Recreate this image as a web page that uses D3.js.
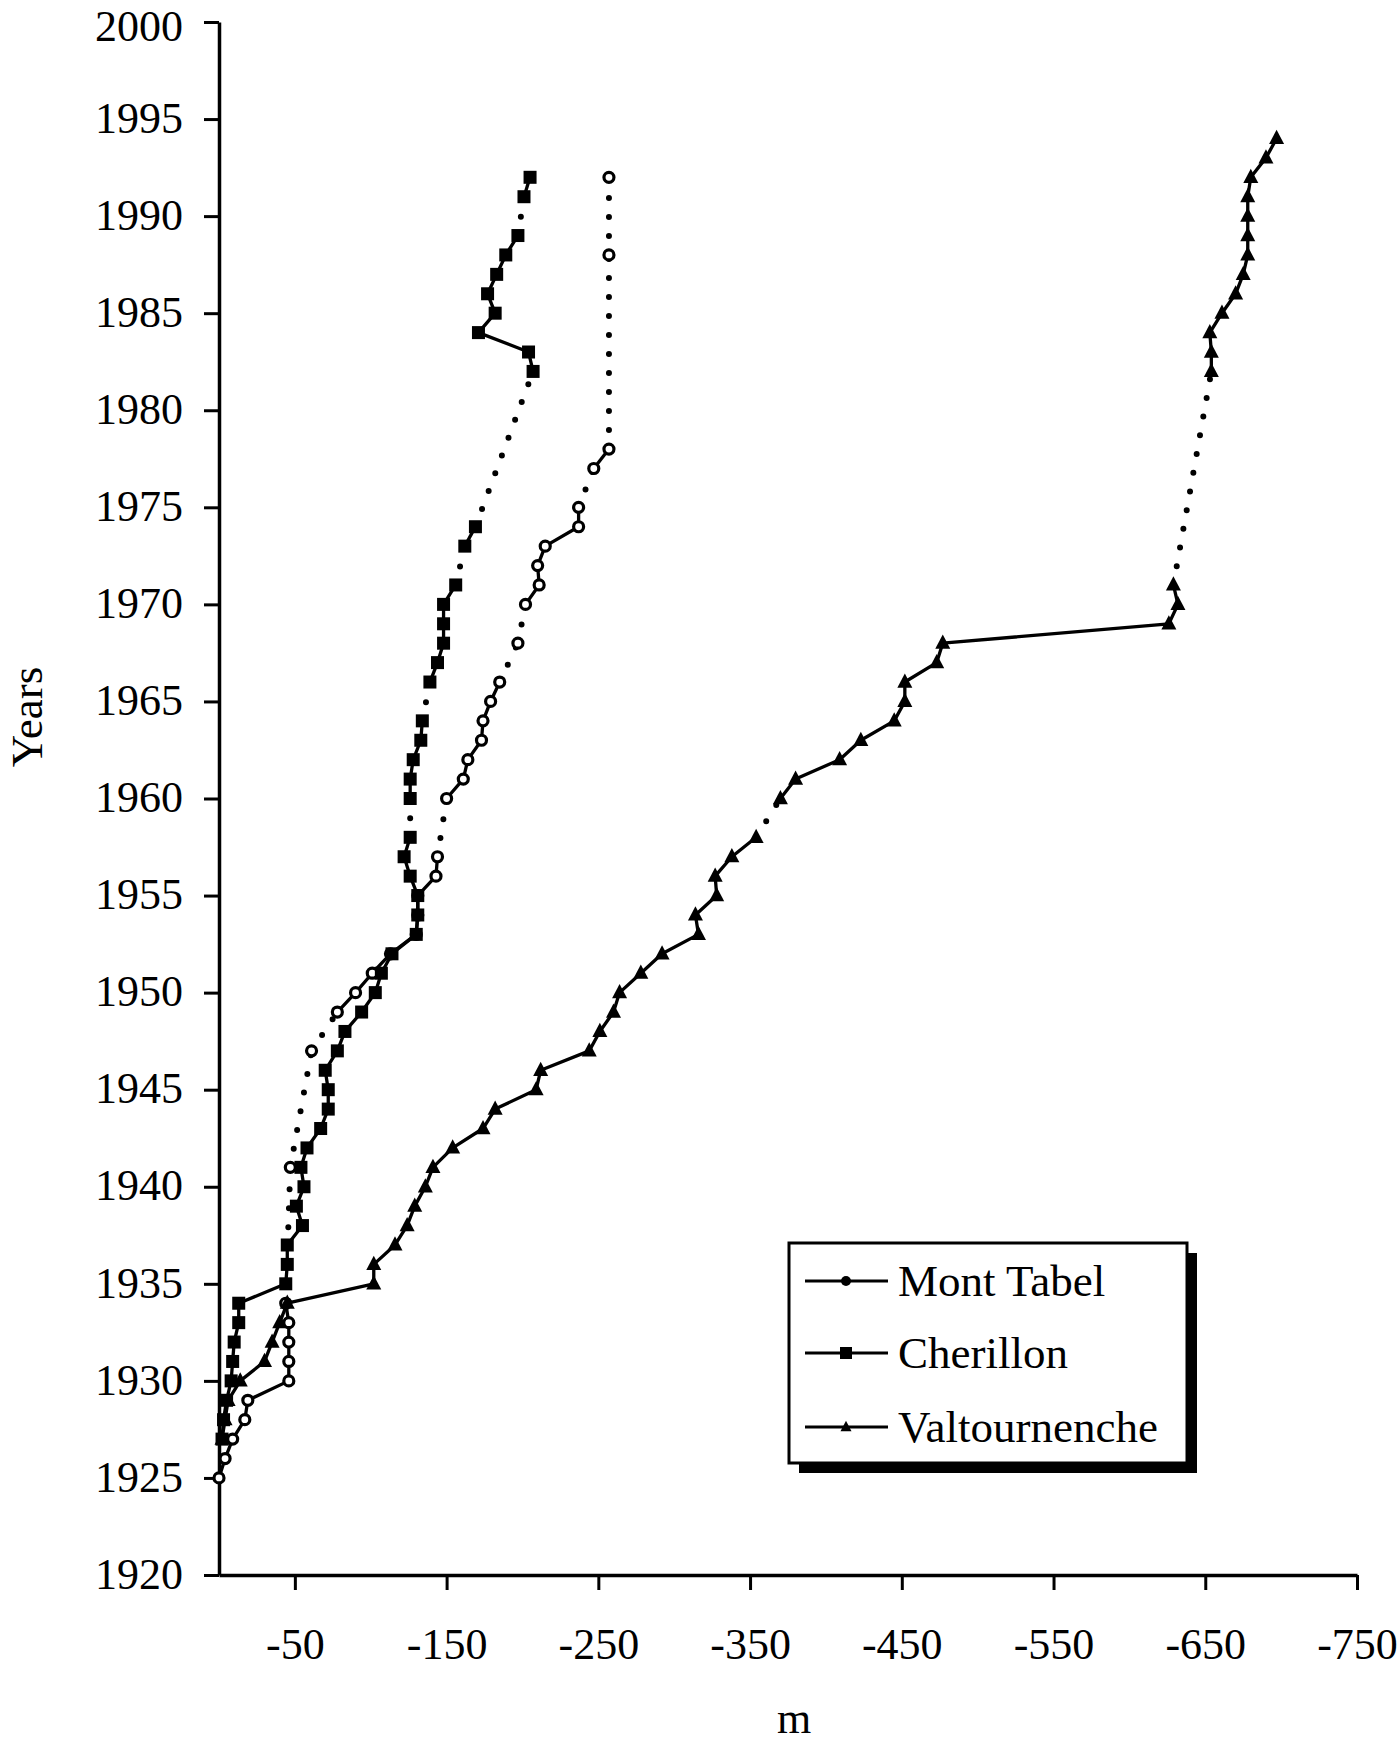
<!DOCTYPE html>
<html>
<head>
<meta charset="utf-8">
<script src="https://cdn.jsdelivr.net/npm/d3@7"></script>
<style>
  html, body { margin: 0; padding: 0; background: #fff; }
  svg { display: block; }
  text { font-family: "Liberation Serif", "Times New Roman", serif; fill: #000; }
</style>
</head>
<body>
<svg id="chart" width="1400" height="1744"></svg>
<script>
// ---------- data ----------
const seriesNames = ["Mont Tabel", "Cherillon", "Valtournenche"];

const mtYears  = [1925,1926,1927,1928,1929,1930,1931,1932,1933,1934,1941,1947,1949,1950,1951,1952,1953,1954,1955,1956,1957,1960,1961,1962,1963,1964,1965,1966,1968,1970,1971,1972,1973,1974,1975,1977,1978,1988,1992];
const mtValues = [0,-4,-9,-17,-19,-46,-46,-46,-46,-44,-47,-61,-78,-90,-101,-113,-130,-131,-131,-143,-144,-150,-161,-164,-173,-174,-179,-185,-197,-202,-211,-210,-215,-237,-237,-247,-257,-257,-257];

const chYears  = [1927,1928,1929,1930,1931,1932,1933,1934,1935,1936,1937,1938,1939,1940,1941,1942,1943,1944,1945,1946,1947,1948,1949,1950,1951,1952,1953,1954,1955,1956,1957,1958,1960,1961,1962,1963,1964,1966,1967,1968,1969,1970,1971,1973,1974,1982,1983,1984,1985,1986,1987,1988,1989,1991,1992];
const chValues = [-2,-3,-5,-8,-9,-10,-13,-13,-44,-45,-45,-55,-51,-56,-54,-58,-67,-72,-72,-70,-78,-83,-94,-103,-107,-114,-130,-131,-131,-126,-122,-126,-126,-126,-128,-133,-134,-139,-144,-148,-148,-148,-156,-162,-169,-207,-204,-171,-182,-177,-183,-189,-197,-201,-205];

const vaYears  = [1927,1928,1929,1930,1931,1932,1933,1934,1935,1936,1937,1938,1939,1940,1941,1942,1943,1944,1945,1946,1947,1948,1949,1950,1951,1952,1953,1954,1955,1956,1957,1958,1960,1961,1962,1963,1964,1965,1966,1967,1968,1969,1970,1971,1982,1983,1984,1985,1986,1987,1988,1989,1990,1991,1992,1993,1994];
const vaValues = [-2,-4,-6,-14,-30,-35,-40,-45,-102,-102,-116,-124,-129,-136,-141,-154,-174,-182,-209,-212,-244,-251,-260,-264,-278,-292,-316,-314,-328,-327,-338,-354,-370,-380,-409,-423,-445,-452,-452,-473,-477,-626,-632,-629,-654,-654,-653,-661,-670,-675,-678,-678,-678,-678,-680,-690,-697];

const yTickValues = [1920,1925,1930,1935,1940,1945,1950,1955,1960,1965,1970,1975,1980,1985,1990,1995,2000];
const xTickValues = [-50,-150,-250,-350,-450,-550,-650,-750];
const xTickLabels = ["-50","-150","-250","-350","-450","-550","-650","-750"];
const xTitle = "m";
const yTitle = "Years";

// ---------- layout ----------
const svg = d3.select("#chart");
const x = d3.scaleLinear().domain([0, -750]).range([219, 1357]);
const y = d3.scaleLinear().domain([1920, 2000]).range([1575, 22]);

// axes
const yAxis = d3.axisLeft(y).tickValues(yTickValues).tickFormat(d3.format("d"))
  .tickSize(15).tickSizeOuter(0).tickPadding(21);
const yG = svg.append("g").attr("transform", `translate(${x(0)},0)`).call(yAxis);
yG.select(".domain").attr("stroke", "#000").attr("stroke-width", 3.5);
yG.selectAll(".tick line").attr("stroke", "#000").attr("stroke-width", 3);
yG.selectAll(".tick text").attr("font-size", 44)
  .attr("dy", d => (y(d) < 40 ? (40 - y(d)) + "px" : "0.3em"))
  .style("font-family", "'Liberation Serif', serif").attr("fill", "#000");

const xAxis = d3.axisBottom(x).tickValues(xTickValues)
  .tickFormat((d, i) => xTickLabels[i]).tickSize(15).tickSizeOuter(0).tickPadding(40);
const xG = svg.append("g").attr("transform", `translate(0,${y(1920)})`).call(xAxis);
xG.select(".domain").attr("stroke", "#000").attr("stroke-width", 3.5);
xG.selectAll(".tick line").attr("stroke", "#000").attr("stroke-width", 3);
xG.selectAll(".tick text").attr("font-size", 44).attr("dy", "0.66em")
  .style("font-family", "'Liberation Serif', serif").attr("fill", "#000");

// titles
svg.append("text").attr("x", 794).attr("y", 1733).attr("text-anchor", "middle")
  .attr("font-size", 44).text(xTitle);
svg.append("text").attr("transform", "translate(42,717) rotate(-90)")
  .attr("text-anchor", "middle").attr("font-size", 45).text(yTitle);

// ---------- series ----------
function build(years, values) {
  return years.map((yr, i) => ({ year: yr, v: values[i] }));
}
const series = [
  { name: seriesNames[0], pts: build(mtYears, mtValues), marker: "circle" },
  { name: seriesNames[1], pts: build(chYears, chValues), marker: "square" },
  { name: seriesNames[2], pts: build(vaYears, vaValues), marker: "triangle" }
];

const line = d3.line().x(d => x(d.v)).y(d => y(d.year));
const plot = svg.append("g");

series.forEach(s => {
  const pts = s.pts;
  // dotted connection across gaps (missing years)
  for (let i = 1; i < pts.length; i++) {
    const a = pts[i - 1], b = pts[i];
    if ((b.year - a.year) !== 1) {
      plot.append("path").attr("d", line([a, b])).attr("fill", "none")
        .attr("stroke", "#000").attr("stroke-width", 6)
        .attr("stroke-linecap", "round").attr("stroke-dasharray", "0 19");
    }
  }
  // solid runs of consecutive years
  let run = [pts[0]];
  const runs = [];
  for (let i = 1; i < pts.length; i++) {
    if (pts[i].year - pts[i - 1].year === 1) run.push(pts[i]);
    else { runs.push(run); run = [pts[i]]; }
  }
  runs.push(run);
  runs.filter(r => r.length > 1).forEach(r => {
    plot.append("path").attr("d", line(r)).attr("fill", "none")
      .attr("stroke", "#000").attr("stroke-width", 3.3).attr("stroke-linejoin", "round");
  });
});

function drawMarker(g, type, cx, cy, legend) {
  if (type === "circle") {
    if (legend) {
      g.append("circle").attr("cx", cx).attr("cy", cy).attr("r", 5).attr("fill", "#000");
    } else {
      g.append("circle").attr("cx", cx).attr("cy", cy).attr("r", 5)
        .attr("fill", "#fff").attr("stroke", "#000").attr("stroke-width", 3.2);
    }
  } else if (type === "square") {
    const h = legend ? 6 : 6.5;
    g.append("rect").attr("x", cx - h).attr("y", cy - h).attr("width", 2 * h).attr("height", 2 * h)
      .attr("fill", "#000");
  } else {
    const sz = legend ? 5.5 : 7.5;
    g.append("path").attr("d", `M${cx},${cy - sz * 1.15}L${cx + sz},${cy + sz * 0.75}L${cx - sz},${cy + sz * 0.75}Z`)
      .attr("fill", "#000");
  }
}

series.forEach(s => {
  s.pts.forEach(p => drawMarker(plot, s.marker, x(p.v), y(p.year), false));
});

// ---------- legend ----------
const lg = svg.append("g");
const lx = 789, ly = 1243, lw = 398, lh = 220;
lg.append("rect").attr("x", lx + 10).attr("y", ly + 10).attr("width", lw).attr("height", lh).attr("fill", "#000");
lg.append("rect").attr("x", lx).attr("y", ly).attr("width", lw).attr("height", lh)
  .attr("fill", "#fff").attr("stroke", "#000").attr("stroke-width", 3);
const rowY = [1281, 1353, 1427];
series.forEach((s, i) => {
  lg.append("line").attr("x1", 805).attr("x2", 888).attr("y1", rowY[i]).attr("y2", rowY[i])
    .attr("stroke", "#000").attr("stroke-width", 3);
  drawMarker(lg, s.marker, 846, rowY[i], true);
  lg.append("text").attr("x", 898).attr("y", rowY[i] + 15).attr("font-size", 45).text(s.name);
});
</script>
</body>
</html>
